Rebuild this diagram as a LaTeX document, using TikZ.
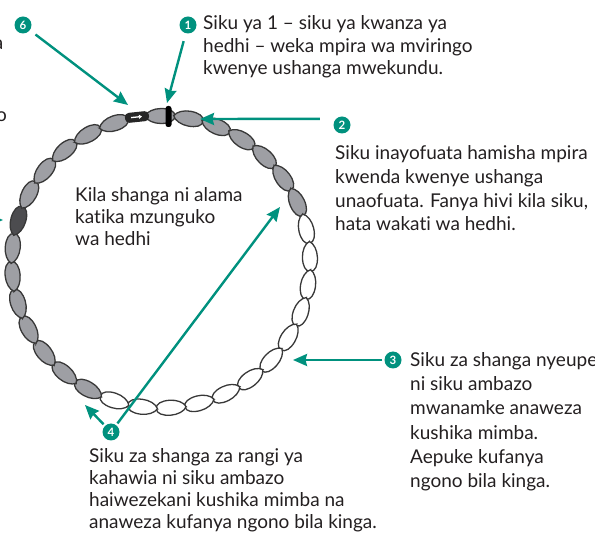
\documentclass[tikz,border=0pt]{standalone}
\usepackage{fontspec}
\setmainfont{Lato}[Ligatures=NoCommon]
\usetikzlibrary{arrows.meta,positioning}
\definecolor{cbteal}{RGB}{0,145,126}
\definecolor{beadgrey}{RGB}{158,159,164}
\definecolor{beaddark}{RGB}{76,76,79}
\definecolor{ink}{RGB}{35,31,32}
\tikzset{%
	>={Stealth[length=14pt,width=12pt,inset=1.5pt]},
	pointer/.style={->, draw=cbteal, line width=2.4pt, shorten <=2pt},
	num/.style={circle, fill=cbteal, text=white, inner sep=0pt, minimum size=17pt, font=\fontsize{11.5}{11.5}\selectfont\bfseries},
	note/.style={align=left, text=ink, inner sep=0pt, anchor=base west},
	bead/.style={draw=black!78, line width=1.3pt, fill=beadgrey}
}
\begin{document}
\begin{tikzpicture}[x=1pt, y=-1pt, font=\fontsize{19}{23}\selectfont]
\useasboundingbox (0,0) rectangle (595,537);

\begin{scope}[shift={(161,262)}]
\foreach \i in {0,...,31}{
	\pgfmathsetmacro\ang{-90.4+11.03*\i}
	\pgfmathsetmacro\rot{-90-(\ang)}
	\def\col{beadgrey}
	\ifnum\i>6 \ifnum\i<19 \def\col{white}\fi\fi
	\ifnum\i=26 \def\col{beaddark}\fi
	\coordinate (b\i) at (\ang:149 and 146);
	\draw[bead, fill=\col, shift={(b\i)}, rotate=\rot] (-15,0) .. controls (-13,4.5) and (-6,7.5) .. (1,7.5) .. controls (9,7.5) and (15,5) .. (15,0) .. controls (15,-5) and (9,-7.5) .. (1,-7.5) .. controls (-6,-7.5) and (-13,-4.5) .. cycle;
}
\end{scope}
\fill[black, rounded corners=2.5pt] (165.5,106) rectangle (171.5,127);
\begin{scope}[shift={(137,117)}, rotate=6]
\fill[black!85, rounded corners=4pt] (-12,-5) rectangle (12,5);
\draw[white, line width=1.3pt, -{Triangle[length=3pt,width=4pt]}] (-6,0) -- (5,0);
\end{scope}

\node (n1) [num] at (188,25) {1};
\node (t1) [note, font=\fontsize{19}{22.5}\selectfont] at (203,75) {Siku ya 1 – siku ya kwanza ya\\hedhi – weka mpira wa mviringo\\kwenye ushanga mwekundu.};
\node (n2) [num] at (342,125) {2};
\node (t2) [note, font=\fontsize{19}{23.7}\selectfont] at (335,231) {Siku inayofuata hamisha mpira\\kwenda kwenye ushanga\\unaofuata. Fanya hivi kila siku,\\hata wakati wa hedhi.};
\node (n3) [num] at (393,360) {3};
\node (t3) [note, font=\fontsize{19}{24.4}\selectfont] at (410,488) {Siku za shanga nyeupe\\ni siku ambazo\\mwanamke anaweza\\kushika mimba.\\Aepuke kufanya\\ngono bila kinga.};
\node (n4) [num] at (111,432) {4};
\node (t4) [note, font=\fontsize{19}{22.3}\selectfont] at (89,529) {Siku za shanga za rangi ya\\kahawia ni siku ambazo\\haiwezekani kushika mimba na\\anaweza kufanya ngono bila kinga.};
\node (n6) [num] at (23,25) {6};
\node (kila) [note, font=\fontsize{19}{22}\selectfont] at (75,246) {Kila shanga ni alama\\katika mzunguko\\wa hedhi};
\node (cut1) [note, anchor=base east] at (3.5,50) {a};
\node (cut2) [note, anchor=base east] at (7,122) {o};

\coordinate (tip1) at (167,103);
\coordinate (tip2) at (200,119);
\coordinate (tip3) at (293,360);
\coordinate (tip4) at (280,207);
\coordinate (tip4b) at (85,405);
\coordinate (tip5) at (3,220);
\coordinate (tip6) at (128,105);

\draw[pointer, shorten <=8pt] (n1) -- (tip1);
\draw[pointer] ([xshift=-14pt]n2.north west) -- (tip2);
\draw[pointer] (n3) -- (tip3);
\draw[pointer] (n4) -- (tip4);
\draw[pointer] (n4) -- (tip4b);
\draw[pointer] ([xshift=-40pt]tip5) -- (tip5);
\draw[pointer, shorten <=7pt] (n6) -- (tip6);

\end{tikzpicture}
\end{document}
